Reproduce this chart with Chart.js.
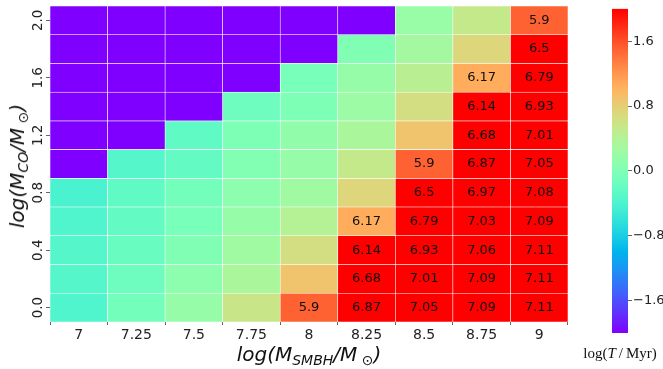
<!DOCTYPE html>
<html>
<head>
<meta charset="utf-8">
<script src="https://cdn.jsdelivr.net/npm/chart.js@4.4.0/dist/chart.umd.min.js"></script>
<style>
  body { margin: 0; background: #fff; }
  #wrap { position: relative; width: 663px; height: 369px; overflow: hidden; }
  #main { position: absolute; left: 0; top: 0; }
  #cbar { position: absolute; left: 600px; top: 0; }
  .lbl { position: absolute; white-space: nowrap; color: #111; transform: translate(-50%, -50%); }
  .math { font-family: "DejaVu Sans", sans-serif; font-style: italic; font-size: 20px; }
  .math sub { font-size: 14px; vertical-align: -4px; line-height: 0; }
  #ytitle { transform: translate(-50%, -50%) rotate(-90deg); }
  #cblabel { font-family: "Liberation Serif", serif; font-size: 15px; }
</style>
</head>
<body>
<div id="wrap">
  <canvas id="main" width="663" height="369"></canvas>
  <canvas id="cbar" width="63" height="369"></canvas>
  <div class="lbl math" id="xtitle" style="left:309px; top:354px;">log(M<sub>SMBH</sub>/M<sub>&nbsp;⊙</sub>)</div>
  <div class="lbl math" id="ytitle" style="left:17px; top:166px;">log(M<sub>CO</sub>/M<sub>&nbsp;⊙</sub>)</div>
  <div class="lbl" id="cblabel" style="left:620px; top:353px;">log(<i>T</i>&thinsp;/&thinsp;Myr)</div>
</div>
<script>
// log(M_SMBH) columns and log(M_CO) rows (bottom to top)
const xLabels = ['7', '7.25', '7.5', '7.75', '8', '8.25', '8.5', '8.75', '9'];
const yVals = [0.0, 0.2, 0.4, 0.6, 0.8, 1.0, 1.2, 1.4, 1.6, 1.8, 2.0];
const yTicks = [0.0, 0.4, 0.8, 1.2, 1.6, 2.0];

// colour value log(T/Myr) per cell, one row per yVals entry
const row00 = [-0.37, -0.10, 0.18, 0.57, 1.50, 2, 2, 2, 2];
const row02 = [-0.33, -0.14, 0.10, 0.33, 0.88, 2, 2, 2, 2];
const row04 = [-0.33, -0.18, 0.00, 0.25, 0.65, 2, 2, 2, 2];
const row06 = [-0.37, -0.22, -0.06, 0.18, 0.41, 1.05, 2, 2, 2];
const row08 = [-0.41, -0.25, -0.10, 0.10, 0.25, 0.73, 2, 2, 2];
const row10 = [-2, -0.33, -0.22, 0.02, 0.18, 0.53, 1.50, 2, 2];
const row12 = [-2, -2, -0.25, -0.02, 0.14, 0.33, 0.88, 2, 2];
const row14 = [-2, -2, -2, -0.14, -0.02, 0.22, 0.65, 2, 2];
const row16 = [-2, -2, -2, -2, -0.06, 0.18, 0.45, 1.05, 2];
const row18 = [-2, -2, -2, -2, -2, 0.00, 0.29, 0.73, 2];
const row20 = [-2, -2, -2, -2, -2, -2, 0.20, 0.53, 1.50];
const logT = [row00, row02, row04, row06, row08, row10, row12, row14, row16, row18, row20];

// numbers written in the cells
const note00 = [null, null, null, null, '5.9', '6.87', '7.05', '7.09', '7.11'];
const note02 = [null, null, null, null, null, '6.68', '7.01', '7.09', '7.11'];
const note04 = [null, null, null, null, null, '6.14', '6.93', '7.06', '7.11'];
const note06 = [null, null, null, null, null, '6.17', '6.79', '7.03', '7.09'];
const note08 = [null, null, null, null, null, null, '6.5', '6.97', '7.08'];
const note10 = [null, null, null, null, null, null, '5.9', '6.87', '7.05'];
const note12 = [null, null, null, null, null, null, null, '6.68', '7.01'];
const note14 = [null, null, null, null, null, null, null, '6.14', '6.93'];
const note16 = [null, null, null, null, null, null, null, '6.17', '6.79'];
const note18 = [null, null, null, null, null, null, null, null, '6.5'];
const note20 = [null, null, null, null, null, null, null, null, '5.9'];
const notes = [note00, note02, note04, note06, note08, note10, note12, note14, note16, note18, note20];

// colour bar
const cbMin = -2.0, cbMax = 2.0;
const cbTicks = [-1.6, -0.8, 0.0, 0.8, 1.6];

// matplotlib "rainbow" colormap
function rainbow(v) {
  let t = (v - cbMin) / (cbMax - cbMin);
  t = Math.max(0, Math.min(1, t));
  const clip = a => Math.max(0, Math.min(1, a));
  const r = clip(Math.abs(2 * t - 0.5));
  const g = clip(Math.sin(Math.PI * t));
  const b = clip(Math.cos(Math.PI * t / 2));
  return `rgb(${Math.round(r * 255)},${Math.round(g * 255)},${Math.round(b * 255)})`;
}

const tickFont = { family: 'DejaVu Sans', size: 14 };
const halfRow = 0.1;

const cellNotes = {
  id: 'cellNotes',
  afterDatasetsDraw(chart) {
    const { ctx, scales } = chart;
    ctx.save();
    ctx.font = '13px "DejaVu Sans"';
    ctx.fillStyle = '#111';
    ctx.textAlign = 'center';
    ctx.textBaseline = 'middle';
    notes.forEach((row, r) => {
      row.forEach((txt, c) => {
        if (!txt) return;
        ctx.fillText(txt, scales.x.getPixelForValue(c), scales.y.getPixelForValue(yVals[r]));
      });
    });
    ctx.restore();
  }
};

new Chart(document.getElementById('main').getContext('2d'), {
  type: 'bar',
  data: {
    labels: xLabels,
    datasets: yVals.map((y, r) => ({
      label: 'row ' + y,
      data: xLabels.map(() => [y - halfRow, y + halfRow]),
      backgroundColor: logT[r].map(rainbow),
      borderColor: 'rgba(255,255,255,0.8)',
      borderWidth: 0.6,
      borderSkipped: false,
      grouped: false,
      barPercentage: 1,
      categoryPercentage: 1
    }))
  },
  options: {
    responsive: false,
    animation: false,
    layout: { padding: { top: 6, right: 95, left: 0, bottom: 0 } },
    plugins: { legend: { display: false }, tooltip: { enabled: false } },
    scales: {
      x: {
        type: 'category',
        grid: { drawOnChartArea: false, drawTicks: true, tickLength: 3, color: '#666' },
        border: { display: false },
        ticks: { font: tickFont, color: '#222', padding: 2, maxRotation: 0 },
        afterFit: s => { s.height = 47; }
      },
      y: {
        type: 'linear',
        min: yVals[0] - halfRow,
        max: yVals[yVals.length - 1] + halfRow,
        afterBuildTicks: s => { s.ticks = yTicks.map(v => ({ value: v })); },
        grid: { drawOnChartArea: false, drawTicks: true, tickLength: 4, color: '#666' },
        border: { display: false },
        ticks: {
          font: { family: 'DejaVu Sans', size: 13.5 }, color: '#222', padding: -3,
          minRotation: 90, maxRotation: 90, crossAlign: 'center',
          callback: v => Number(v).toFixed(1)
        },
        afterFit: s => { s.width = 50; }
      }
    }
  },
  plugins: [cellNotes]
});

new Chart(document.getElementById('cbar').getContext('2d'), {
  type: 'bar',
  data: {
    labels: ['log(T/Myr)'],
    datasets: [{
      data: [[cbMin, cbMax]],
      backgroundColor: c => {
        const a = c.chart.chartArea;
        if (!a) return 'red';
        const g = c.chart.ctx.createLinearGradient(0, a.bottom, 0, a.top);
        for (let i = 0; i <= 40; i++) {
          g.addColorStop(i / 40, rainbow(cbMin + (cbMax - cbMin) * i / 40));
        }
        return g;
      },
      borderWidth: 0,
      barPercentage: 1,
      categoryPercentage: 1
    }]
  },
  options: {
    responsive: false,
    animation: false,
    layout: { padding: { top: 3, bottom: 36, left: 12, right: 0 } },
    plugins: { legend: { display: false }, tooltip: { enabled: false } },
    scales: {
      x: { display: false },
      y: {
        position: 'right',
        min: cbMin,
        max: cbMax,
        afterBuildTicks: s => { s.ticks = cbTicks.map(v => ({ value: v })); },
        grid: { drawOnChartArea: false, drawTicks: true, tickLength: 4, color: '#666' },
        border: { display: false },
        ticks: {
          font: { family: 'DejaVu Sans', size: 13 }, color: '#222', padding: 1,
          callback: v => Number(v).toFixed(1).replace('-', '\u2212')
        },
        afterFit: s => { s.width = 35; }
      }
    }
  }
});
</script>
</body>
</html>
